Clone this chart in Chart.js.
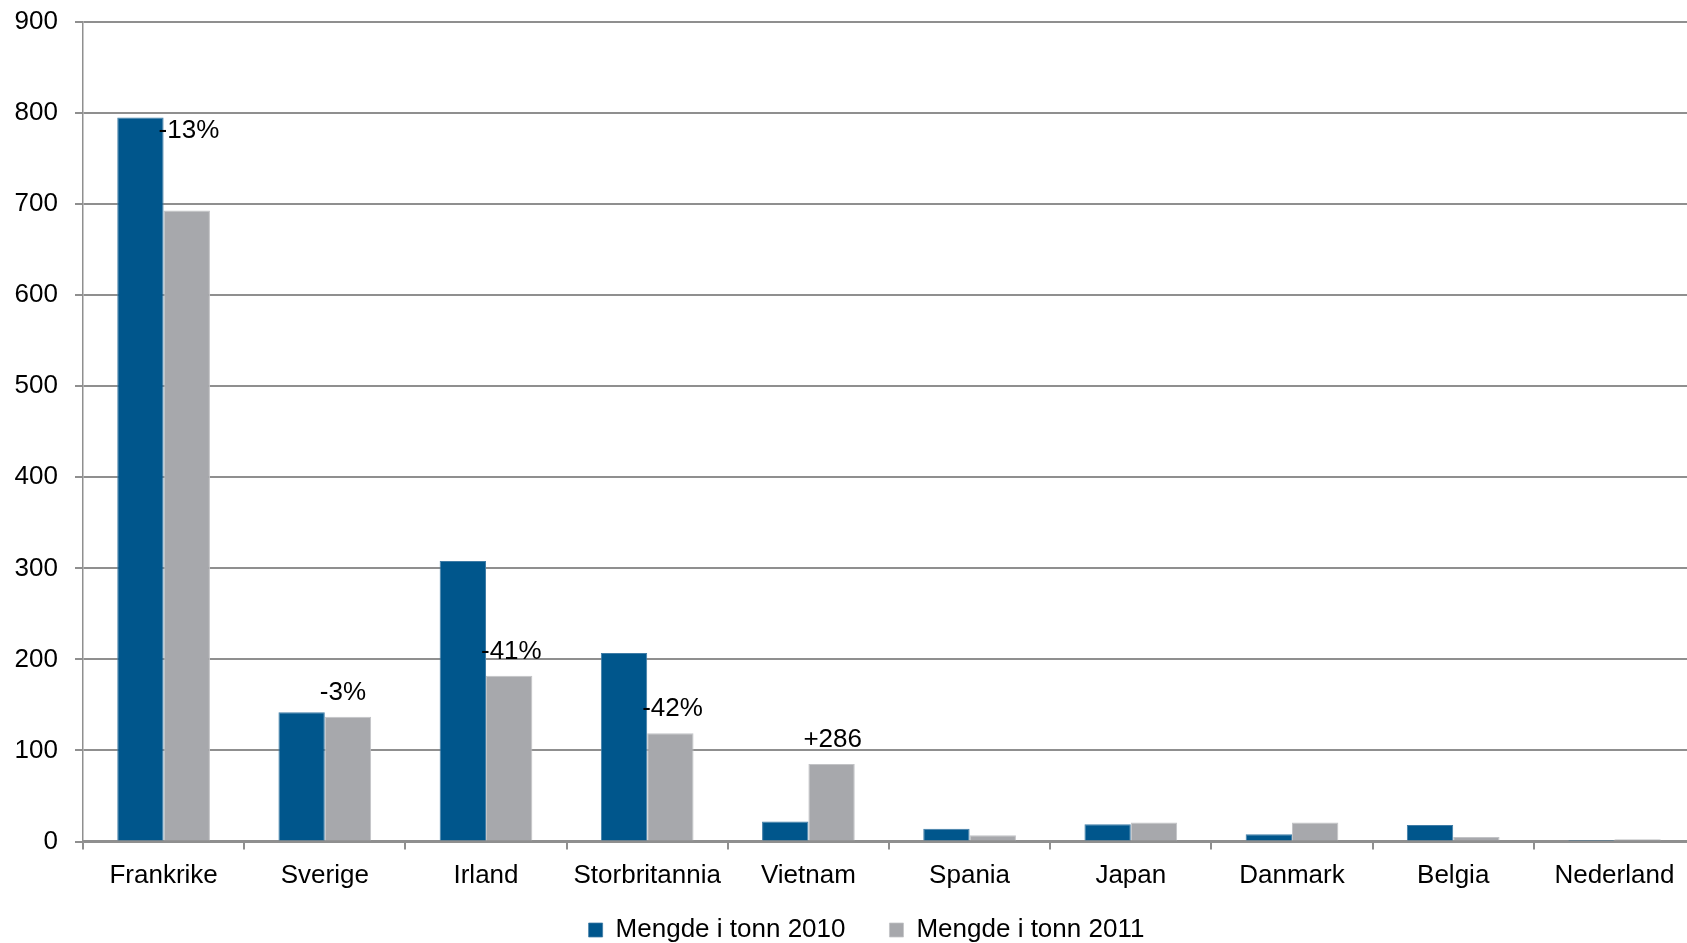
<!DOCTYPE html>
<html>
<head>
<meta charset="utf-8">
<script src="https://cdn.jsdelivr.net/npm/chart.js@4.4.0/dist/chart.umd.min.js"></script>
<style>
  html, body { margin: 0; padding: 0; background: #fff; overflow: hidden; }
  canvas { display: block; }
</style>
</head>
<body>
<canvas id="chart" width="1687" height="943"></canvas>
<script>
const categories = ['Frankrike', 'Sverige', 'Irland', 'Storbritannia', 'Vietnam', 'Spania', 'Japan', 'Danmark', 'Belgia', 'Nederland'];
const tonn2010 = [795, 142, 308, 207, 22, 14, 19, 8, 18, 0.5];
const tonn2011 = [693, 137, 182, 119, 85, 7, 21, 21, 5, 2.5];
const changeLabels = ['-13%', '-3%', '-41%', '-42%', '+286', '', '', '', '', ''];

const FONT = "'Liberation Sans', Arial, sans-serif";
const FONT_SIZE = 26;
const gridColor = '#8f8f8f';

// writes the change labels next to each pair of bars
const changePlugin = {
  id: 'changeLabels',
  afterDatasetsDraw(chart) {
    const ctx = chart.ctx;
    const m2010 = chart.getDatasetMeta(0).data;
    const m2011 = chart.getDatasetMeta(1).data;
    ctx.save();
    ctx.font = FONT_SIZE + 'px ' + FONT;
    ctx.fillStyle = '#000';
    ctx.textAlign = 'left';
    ctx.textBaseline = 'alphabetic';
    changeLabels.forEach((txt, i) => {
      if (!txt) return;
      const b = m2011[i];
      const x = b.x - b.width / 2 - 5;
      // the first one sits just under the top of the 2010 bar
      const y = i === 0 ? m2010[i].y + 20 : b.y - 17;
      ctx.fillText(txt, x, y);
    });
    ctx.restore();
  }
};

// plot runs a little past the right edge like the original,
// x labels may run into the legend box, legend nudged right
const EXTRA_RIGHT = 8;
const layoutTweak = {
  id: 'layoutTweak',
  afterLayout(chart) {
    const x = chart.scales.x;
    x.right += EXTRA_RIGHT;
    x.width += EXTRA_RIGHT;
    x.bottom = x.top + 64;
    x.height = 64;
    x.configure();
    chart.chartArea.right += EXTRA_RIGHT;
    chart.chartArea.width += EXTRA_RIGHT;
    chart.legend.left += 23;
    chart.legend.right += 23;
  }
};

new Chart(document.getElementById('chart'), {
  type: 'bar',
  data: {
    labels: categories,
    datasets: [
      {
        label: 'Mengde i tonn 2010',
        data: tonn2010,
        backgroundColor: '#00568C',
        borderColor: '#3f7ca6',
        borderWidth: { left: 1, right: 1, top: 1, bottom: 0 },
        categoryPercentage: 0.575,
        barPercentage: 1.0
      },
      {
        label: 'Mengde i tonn 2011',
        data: tonn2011,
        backgroundColor: '#A7A8AC',
        borderColor: '#c2c3c6',
        borderWidth: { left: 1, right: 1, top: 1, bottom: 0 },
        categoryPercentage: 0.575,
        barPercentage: 1.0
      }
    ]
  },
  options: {
    responsive: false,
    animation: false,
    layout: { padding: { top: 22, left: 0, right: 0, bottom: -10 } },
    plugins: {
      legend: {
        position: 'bottom',
        labels: {
          font: { family: FONT, size: FONT_SIZE },
          color: '#000',
          boxWidth: 14,
          boxHeight: 14,
          padding: 44
        }
      },
      tooltip: { enabled: false }
    },
    scales: {
      x: {
        offset: true,
        grid: {
          offset: true,
          drawOnChartArea: false,
          color: gridColor,
          lineWidth: 2,
          tickLength: 8
        },
        border: { color: gridColor, width: 2.5 },
        ticks: {
          color: '#000',
          font: { family: FONT, size: FONT_SIZE },
          padding: 11,
          maxRotation: 0,
          autoSkip: false
        },
        afterFit(scale) { scale.height = 31.5; }
      },
      y: {
        min: 0,
        max: 900,
        ticks: {
          stepSize: 100,
          color: '#000',
          font: { family: FONT, size: FONT_SIZE },
          padding: 17
        },
        grid: {
          color: gridColor,
          lineWidth: 2,
          tickLength: 8
        },
        border: { color: gridColor, width: 1.5 },
        afterFit(scale) {
          scale.width = 83;
          scale.paddingTop = 0;
          scale.paddingBottom = 0;
        }
      }
    }
  },
  plugins: [changePlugin, layoutTweak]
});
</script>
</body>
</html>
